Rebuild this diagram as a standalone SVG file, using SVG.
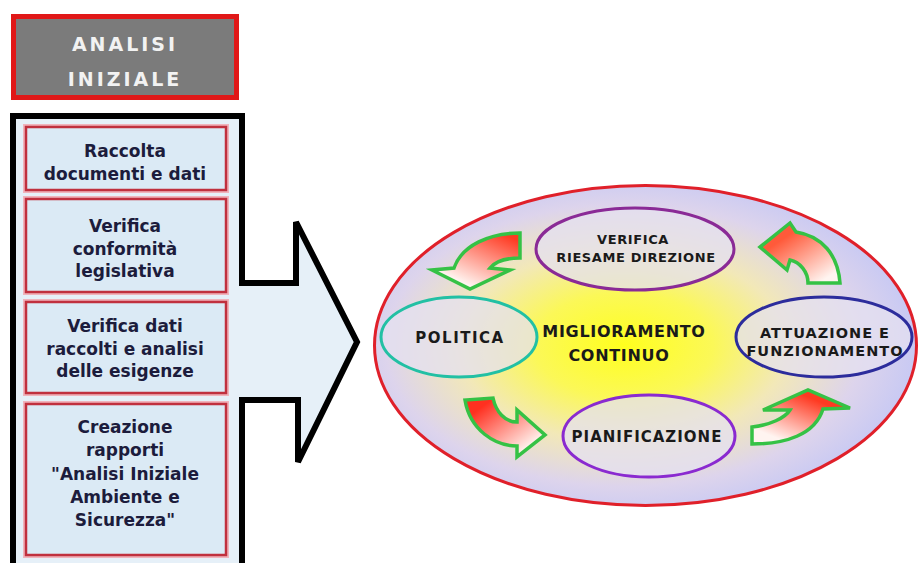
<svg xmlns="http://www.w3.org/2000/svg" width="919" height="563" viewBox="0 0 919 563">
<style>
.box-halo{fill:none;stroke:#f0b4bc;stroke-width:6}
.box{fill:#dbeaf5;stroke:#c0303e;stroke-width:2.5}
.btxt{font-family:"DejaVu Sans",Verdana,sans-serif;font-weight:bold;font-size:17px;fill:#1c1c3c;text-anchor:middle}
.ctxt{font-family:"DejaVu Sans",Verdana,sans-serif;font-weight:bold;fill:#1a1a1a;text-anchor:middle}
.ell{fill:#e4e0f0;fill-opacity:0.75;stroke-width:3}
.garrow{stroke:#35c245;stroke-width:3.5;stroke-linejoin:miter}
</style>
<defs>
<radialGradient id="bigfill" cx="0.46" cy="0.5" r="0.55">
<stop offset="0" stop-color="#ffff1e"/>
<stop offset="0.3" stop-color="#fbf858"/>
<stop offset="0.55" stop-color="#f2e8b8"/>
<stop offset="0.8" stop-color="#ddd4ec"/>
<stop offset="1" stop-color="#c6c8f4"/>
</radialGradient>
<linearGradient id="gA" x1="1" y1="0" x2="0.3" y2="1"><stop offset="0.1" stop-color="#ff3a22"/><stop offset="0.9" stop-color="#fff4f0"/></linearGradient>
<linearGradient id="gB" x1="0.2" y1="0.2" x2="0.9" y2="1"><stop offset="0.1" stop-color="#ff5a3a"/><stop offset="0.9" stop-color="#fff4f0"/></linearGradient>
<linearGradient id="gC" x1="0.1" y1="0.1" x2="0.9" y2="0.9"><stop offset="0.1" stop-color="#ff3020"/><stop offset="0.9" stop-color="#fff4f0"/></linearGradient>
<linearGradient id="gD" x1="0.7" y1="0.1" x2="0.1" y2="0.9"><stop offset="0.1" stop-color="#ff3a22"/><stop offset="0.9" stop-color="#fff4f0"/></linearGradient>
</defs>
<rect width="919" height="563" fill="#ffffff"/>

<g id="analisi-iniziale">
<rect x="13.5" y="16.5" width="223" height="81" fill="#7b7b7b" stroke="#e01818" stroke-width="5"/>
<text x="125" y="51" font-family="'DejaVu Sans',Verdana,sans-serif" font-weight="bold" font-size="19" fill="#f2f2f2" text-anchor="middle" letter-spacing="3">ANALISI</text>
<text x="125" y="86" font-family="'DejaVu Sans',Verdana,sans-serif" font-weight="bold" font-size="19" fill="#f2f2f2" text-anchor="middle" letter-spacing="3">INIZIALE</text>
</g>

<g id="analysis-arrow">
<polygon points="13,116 242,116 242,283 296,283 296,222 357,342 298,462 298,400 242,400 242,580 13,580" fill="#e6f0f8" stroke="#000000" stroke-width="6" stroke-linejoin="miter"/>
</g>

<g id="raccolta">
<rect class="box-halo" x="26" y="127" width="200" height="63"/>
<rect class="box" x="26" y="127" width="200" height="63"/>
<text class="btxt" x="125" y="157">Raccolta</text>
<text class="btxt" x="125" y="180">documenti e dati</text>
</g>
<g id="verifica-conformita">
<rect class="box-halo" x="26" y="199" width="200" height="93"/>
<rect class="box" x="26" y="199" width="200" height="93"/>
<text class="btxt" x="125" y="232">Verifica</text>
<text class="btxt" x="125" y="255">conformità</text>
<text class="btxt" x="125" y="277">legislativa</text>
</g>
<g id="verifica-dati">
<rect class="box-halo" x="26" y="302" width="200" height="91"/>
<rect class="box" x="26" y="302" width="200" height="91"/>
<text class="btxt" x="125" y="332">Verifica dati</text>
<text class="btxt" x="125" y="355">raccolti e analisi</text>
<text class="btxt" x="125" y="377">delle esigenze</text>
</g>
<g id="creazione-rapporti">
<rect class="box-halo" x="26" y="404" width="200" height="151"/>
<rect class="box" x="26" y="404" width="200" height="151"/>
<text class="btxt" x="125" y="433">Creazione</text>
<text class="btxt" x="125" y="456">rapporti</text>
<text class="btxt" x="125" y="480">"Analisi Iniziale</text>
<text class="btxt" x="125" y="503">Ambiente e</text>
<text class="btxt" x="125" y="526">Sicurezza"</text>
</g>

<g id="miglioramento-continuo">
<ellipse cx="645.5" cy="345.5" rx="271" ry="160" fill="url(#bigfill)" stroke="#e0202a" stroke-width="3"/>
<text class="ctxt" x="624" y="337" font-size="16" letter-spacing="0.7">MIGLIORAMENTO</text>
<text class="ctxt" x="619" y="361" font-size="16" letter-spacing="0.7">CONTINUO</text>
</g>

<g id="verifica-riesame">
<ellipse class="ell" cx="635" cy="249" rx="99" ry="41" stroke="#8a2a96"/>
<text class="ctxt" x="633" y="244" font-size="13" letter-spacing="0.6">VERIFICA</text>
<text class="ctxt" x="636" y="262" font-size="13" letter-spacing="0.6">RIESAME DIREZIONE</text>
</g>
<g id="politica">
<ellipse class="ell" cx="459" cy="337" rx="78" ry="40" stroke="#22c0a4"/>
<text class="ctxt" x="460" y="343" font-size="15" letter-spacing="1.5">POLITICA</text>
</g>
<g id="attuazione">
<ellipse class="ell" cx="824" cy="337" rx="88" ry="40" stroke="#2c2c9c"/>
<text class="ctxt" x="825" y="338" font-size="14.5" letter-spacing="1">ATTUAZIONE E</text>
<text class="ctxt" x="825" y="356" font-size="14.5" letter-spacing="1">FUNZIONAMENTO</text>
</g>
<g id="pianificazione">
<ellipse class="ell" cx="649" cy="436" rx="86" ry="41" stroke="#8a2ad0"/>
<text class="ctxt" x="647" y="442" font-size="15" letter-spacing="1">PIANIFICAZIONE</text>
</g>

<g id="connectors">
<path class="garrow" fill="url(#gA)" d="M520,233 C490,233 462,245 454,268 L432,270 L470,289 L510,270 L490,268 C495,262 505,258 520,258 Z"/>
<path class="garrow" fill="url(#gB)" d="M840,283 C838,255 822,236 796,232 L790,223 L760,247 L787,270 L790,260 C800,262 808,272 808,283 Z"/>
<path class="garrow" fill="url(#gC)" d="M465,400 C470,430 495,446 517,446 L517,457 L545,435 L517,410 L517,422 C505,422 496,412 493,398 Z"/>
<path class="garrow" fill="url(#gD)" d="M752,427 C770,425 785,418 790,410 L763,410 L808,390 L850,408 L823,409 C815,435 785,444 752,444 Z"/>
</g>
</svg>
